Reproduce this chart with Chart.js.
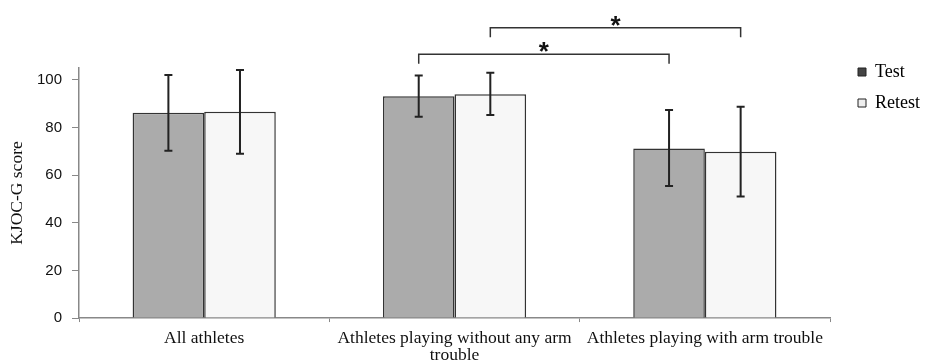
<!DOCTYPE html>
<html>
<head>
<meta charset="utf-8">
<script src="https://cdn.jsdelivr.net/npm/chart.js@4"></script>
<style>
  html, body { margin: 0; padding: 0; background: #fff; }
  #wrap { width: 926px; height: 360px; }
</style>
</head>
<body>
<div id="wrap"><canvas id="grafica" width="926" height="360"></canvas></div>
<script>
// Chart data
const categories = [
    'All athletes',
    ['Athletes playing without any arm', 'trouble'],
    'Athletes playing with arm trouble'
];
const testMeans = [86.2, 93.1, 71.2];
const testLow = [70.3, 84.5, 55.4];
const testHigh = [102.1, 101.8, 87.4];
const retestMeans = [86.6, 94.0, 69.8];
const retestLow = [69.0, 85.3, 51.0];
const retestHigh = [104.2, 103.0, 88.7];
const yTicks = [0, 20, 40, 60, 80, 100];

// significance brackets: [group, datasetIndex] endpoints and bracket height in data units
const brackets = [
    { from: [1, 0], to: [2, 0], level: 110.8, drop: 4 },
    { from: [1, 1], to: [2, 1], level: 121.9, drop: 4 }
];

// Error bars + brackets drawn on top of bars
const errorBarPlugin = {
    id: 'errorBars',
    afterLayout(chart) {
        // nudge the legend closer to the top right, like the original figure
        const lg = chart.legend;
        const dx = 15, dy = 18;
        lg.left += dx; lg.right += dx;
        lg.top -= dy; lg.bottom -= dy;
    },
    afterDatasetsDraw(chart) {
        const ctx = chart.ctx;
        const y = chart.scales.y;
        const ranges = [[testLow, testHigh], [retestLow, retestHigh]];
        ctx.save();
        ctx.strokeStyle = '#222';
        ctx.lineWidth = 2;
        ranges.forEach((r, di) => {
            const meta = chart.getDatasetMeta(di);
            meta.data.forEach((bar, i) => {
                const x = bar.x;
                const yl = y.getPixelForValue(r[0][i]);
                const yh = y.getPixelForValue(r[1][i]);
                ctx.beginPath();
                ctx.moveTo(x, yl); ctx.lineTo(x, yh);
                ctx.moveTo(x - 4, yl); ctx.lineTo(x + 4, yl);
                ctx.moveTo(x - 4, yh); ctx.lineTo(x + 4, yh);
                ctx.stroke();
            });
        });
        // brackets with stars
        ctx.lineWidth = 1.5;
        ctx.strokeStyle = '#333';
        ctx.fillStyle = '#111';
        ctx.font = 'bold 26px "Liberation Sans"';
        ctx.textAlign = 'center';
        ctx.textBaseline = 'middle';
        brackets.forEach(b => {
            const x1 = chart.getDatasetMeta(b.from[1]).data[b.from[0]].x;
            const x2 = chart.getDatasetMeta(b.to[1]).data[b.to[0]].x;
            const yt = y.getPixelForValue(b.level);
            const yb = y.getPixelForValue(b.level - b.drop);
            ctx.beginPath();
            ctx.moveTo(x1, yb); ctx.lineTo(x1, yt); ctx.lineTo(x2, yt); ctx.lineTo(x2, yb);
            ctx.stroke();
            ctx.fillText('*', (x1 + x2) / 2, yt - 1);
        });
        ctx.restore();
    }
};

new Chart(document.getElementById('grafica'), {
    type: 'bar',
    data: {
        labels: categories,
        datasets: [
            {
                label: 'Test',
                data: testMeans,
                backgroundColor: '#ababab',
                borderColor: '#333',
                borderWidth: 1.5,
                categoryPercentage: 0.572,
                barPercentage: 1
            },
            {
                label: 'Retest',
                data: retestMeans,
                backgroundColor: '#f7f7f7',
                borderColor: '#333',
                borderWidth: 1.5,
                categoryPercentage: 0.572,
                barPercentage: 1
            }
        ]
    },
    options: {
        responsive: false,
        animation: false,
        layout: { padding: { top: 68, right: 11, left: 9, bottom: -12 } },
        plugins: {
            tooltip: { enabled: false },
            legend: {
                position: 'right',
                align: 'start',
                labels: {
                    boxWidth: 8,
                    boxHeight: 8,
                    padding: 13,
                    color: '#111',
                    font: { family: '"Liberation Serif"', size: 18 },
                    generateLabels: chart => [
                        { text: 'Test', fillStyle: '#444', strokeStyle: '#222', lineWidth: 1, datasetIndex: 0 },
                        { text: 'Retest', fillStyle: '#eee', strokeStyle: '#222', lineWidth: 1, datasetIndex: 1 }
                    ]
                }
            }
        },
        scales: {
            x: {
                grid: { offset: true, drawOnChartArea: false, tickLength: 4, color: '#888' },
                border: { color: '#888', width: 1.5 },
                ticks: {
                    color: '#111',
                    font: { family: '"Liberation Serif"', size: 17.5, lineHeight: 0.97 },
                    maxRotation: 0,
                    autoSkip: false,
                    padding: 8
                }
            },
            y: {
                min: 0,
                max: 105,
                afterBuildTicks: axis => { axis.ticks = yTicks.map(v => ({ value: v })); },
                grid: { drawOnChartArea: false, tickLength: 7, color: '#888' },
                border: { color: '#888', width: 1.5 },
                ticks: {
                    color: '#111',
                    font: { family: '"Liberation Sans"', size: 15 },
                    padding: 10
                },
                title: {
                    display: true,
                    text: 'KJOC-G score',
                    color: '#111',
                    font: { family: '"Liberation Serif"', size: 17.5, lineHeight: 1.0 },
                    padding: { top: 0, bottom: 0.5 }
                }
            }
        }
    },
    plugins: [errorBarPlugin]
});
</script>
</body>
</html>
